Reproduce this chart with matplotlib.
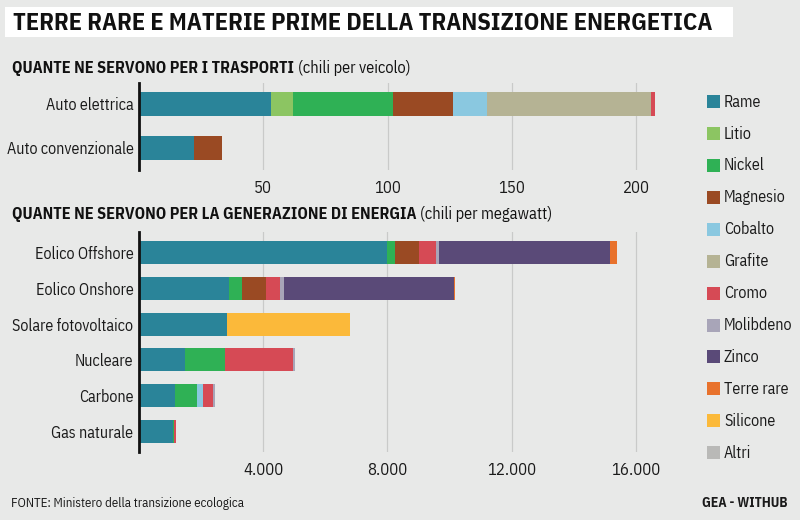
import matplotlib
matplotlib.use("Agg")
import matplotlib.pyplot as plt
from matplotlib.patches import Rectangle

plt.rcParams['font.family'] = ['IBM Plex Sans Condensed', 'DejaVu Sans']

# --- data ---
materials = ["Rame", "Litio", "Nickel", "Magnesio", "Cobalto", "Grafite",
             "Cromo", "Molibdeno", "Zinco", "Terre rare", "Silicone", "Altri"]
colors = ["#2a8499", "#8cc562", "#2fb155", "#9a4a23", "#8ac8e0", "#b5b394",
          "#d64a55", "#a8a5b8", "#5a4a78", "#e8722c", "#fbb93a", "#b9b9b7"]

vehicles = ["Auto elettrica", "Auto convenzionale"]
# kg per vehicle
veh_rame = [53.2, 22.3]
veh_litio = [8.9, 0]
veh_nickel = [39.9, 0]
veh_magnesio = [24.5, 11.2]
veh_cobalto = [13.3, 0]
veh_grafite = [66.3, 0]
veh_cromo = [1.5, 0]

energy = ["Eolico Offshore", "Eolico Onshore", "Solare fotovoltaico",
          "Nucleare", "Carbone", "Gas naturale"]
# kg per MW
en_rame = [8000, 2900, 2822, 1473, 1150, 1100]
en_nickel = [240, 404, 0, 1297, 721, 16]
en_magnesio = [790, 780, 0, 0, 0, 0]
en_cobalto = [0, 0, 0, 0, 200, 0]
en_cromo = [525, 470, 0, 2190, 308, 80]
en_molibdeno = [109, 99, 0, 70, 66, 0]
en_zinco = [5500, 5500, 0, 0, 0, 0]
en_terre_rare = [239, 14, 0, 0, 0, 0]
en_silicone = [0, 0, 3978, 0, 0, 0]

top_ticks = [50, 100, 150, 200]
bottom_ticks = [4000, 8000, 12000, 16000]
bottom_tick_labels = ["4.000", "8.000", "12.000", "16.000"]

veh_series = {"Rame": veh_rame, "Litio": veh_litio, "Nickel": veh_nickel,
              "Magnesio": veh_magnesio, "Cobalto": veh_cobalto,
              "Grafite": veh_grafite, "Cromo": veh_cromo}
en_series = {"Rame": en_rame, "Nickel": en_nickel, "Magnesio": en_magnesio,
             "Cobalto": en_cobalto, "Cromo": en_cromo,
             "Molibdeno": en_molibdeno, "Zinco": en_zinco,
             "Terre rare": en_terre_rare, "Silicone": en_silicone}

BG = "#e8e9e8"
TXT = "#1a1a1a"
W, H = 800, 520

fig = plt.figure(figsize=(8, 5.2), dpi=100, facecolor=BG)


def fx(px):
    return px / W


def fy(py):
    return 1 - py / H


def stacked(ax, cats, series, height):
    left = [0] * len(cats)
    for name, col in zip(materials, colors):
        if name not in series:
            continue
        vals = series[name]
        ax.barh(range(len(cats)), vals, left=left, height=height,
                color=col, linewidth=0, zorder=3)
        left = [a + b for a, b in zip(left, vals)]


def style(ax, cats, ticks, ticklabels):
    ax.set_facecolor("none")
    for s in ["top", "right", "bottom"]:
        ax.spines[s].set_visible(False)
    ax.spines["left"].set_linewidth(2)
    ax.spines["left"].set_color("#111111")
    ax.spines["left"].set_zorder(5)
    ax.set_yticks(range(len(cats)))
    ax.set_yticklabels(cats, fontsize=11.5, color=TXT)
    ax.set_xticks(ticks)
    ax.set_xticklabels(ticklabels, fontsize=12, color=TXT)
    ax.tick_params(length=0, axis="y", pad=4)
    ax.tick_params(length=0, axis="x", pad=7)
    ax.grid(axis="x", color="#c9cac9", linewidth=0.9, zorder=0)
    ax.set_axisbelow(True)


# top panel: vehicles
ax1 = fig.add_axes([fx(139), fy(170), fx(660 - 139), (170 - 83) / H])
stacked(ax1, vehicles, veh_series, 0.55)
style(ax1, vehicles, top_ticks, [str(t) for t in top_ticks])
ax1.set_xlim(0, (660 - 138.6) / 2.488)
ax1.set_ylim(1.5, -0.477)

# bottom panel: energy
ax2 = fig.add_axes([fx(139), fy(452), fx(660 - 139), (452 - 232) / H])
stacked(ax2, energy, en_series, 0.64)
style(ax2, energy, bottom_ticks, bottom_tick_labels)
ax2.set_xlim(0, (660 - 139.3) / 0.03104)
ax2.set_ylim(5.56, -0.56)

# title on white band
fig.add_artist(Rectangle((fx(5), fy(37)), fx(728), 30 / H,
                         transform=fig.transFigure, facecolor="white",
                         edgecolor="none"))
fig.text(fx(13), fy(23), "TERRE RARE E MATERIE PRIME DELLA TRANSIZIONE ENERGETICA",
         fontsize=17.6, fontweight="bold", va="center", ha="left", color="#111111")

renderer = fig.canvas.get_renderer()


def subtitle(y, bold, normal):
    t = fig.text(fx(12), fy(y), bold, fontsize=11.7, fontweight="bold",
                 va="center", ha="left", color="#111111")
    bb = t.get_window_extent(renderer)
    fig.text(bb.x1 / W + fx(4), fy(y), normal, fontsize=11.7,
             va="center", ha="left", color="#111111")


subtitle(68, "QUANTE NE SERVONO PER I TRASPORTI", "(chili per veicolo)")
subtitle(214, "QUANTE NE SERVONO PER LA GENERAZIONE DI ENERGIA",
         "(chili per megawatt)")

# legend on the right
for i, (name, col) in enumerate(zip(materials, colors)):
    yc = 101.7 + 31.9 * i
    fig.add_artist(Rectangle((fx(707), fy(yc + 6.5)), fx(13), 13 / H,
                             transform=fig.transFigure, facecolor=col,
                             edgecolor="none"))
    fig.text(fx(724), fy(yc), name, fontsize=11.5, va="center", ha="left",
             color=TXT)

# footer
fig.text(fx(11), fy(503), "FONTE: Ministero della transizione ecologica",
         fontsize=9.3, va="center", ha="left", color=TXT)
fig.text(fx(788), fy(503), "GEA - WITHUB", fontsize=9.8, fontweight="bold",
         va="center", ha="right", color=TXT)

fig.savefig("out.png", dpi=100, facecolor=BG)
